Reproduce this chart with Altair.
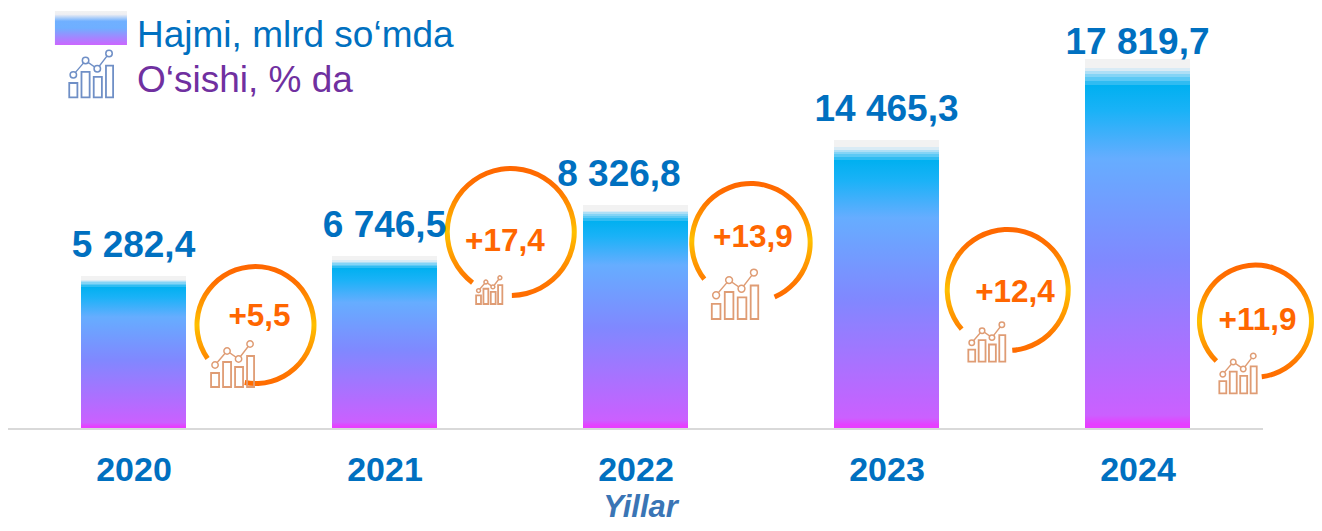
import math
import altair as alt
import pandas as pd

FONT = "Liberation Sans"
BLUE = "#0070C0"
ORANGE = "#FF6600"
PX = 1 / 251  # one screen pixel in year units

years = [2020, 2021, 2022, 2023, 2024]
value_labels = ["5 282,4", "6 746,5", "8 326,8", "14 465,3", "17 819,7"]
bar_heights = [152, 172, 223, 288, 369]
label_x = [2020.0, 2021.0, 2021.934, 2023.0, 2024.0]
label_y = [171.3, 191, 242, 307, 374]

growth_labels = ["+5,5", "+17,4", "+13,9", "+12,4", "+11,9"]
growth_x = [2020.502, 2021.48, 2022.468, 2023.512, 2024.478]
growth_y = [102, 177, 181.3, 126.3, 98]

ring_x = [2020.486, 2021.503, 2022.460, 2023.483, 2024.47]
ring_y = [103, 196, 185.3, 138, 107]
ring_r = [61, 66, 61.7, 63, 58.5]
ring_start = [235, 217, 232, 229.6, 224.3]
ring_end = [550.6, 539, 516.5, 535.7, 533.6]

icon_left = [2020.309, 2021.365, 2022.304, 2023.326, 2024.326, 2019.744]
icon_bottom = [41, 124, 109, 66.3, 34.7, 330.7]
icon_scale = [1.0, 0.61, 1.08, 0.86, 0.87, 1.02]
icon_color = ["#DF9C74"] * 5 + ["#6F8FC6"]
icon_bars = [(0, 8, 14), (12, 20, 25), (24, 32, 20), (36, 43, 31)]
icon_dots = [(4, 22), (16, 36), (27.5, 28), (39, 43)]

legend_texts = ["Hajmi, mlrd so‘mda", "O‘sishi, % da"]
legend_colors = [BLUE, "#7030A0"]
legend_x = [2020.014, 2020.014]
legend_y = [381.3, 336.3]

bars = pd.DataFrame({
    "x": [y - 52.5 * PX for y in years],
    "x2": [y + 52.5 * PX for y in years],
    "h": bar_heights,
})
labels = pd.DataFrame({"x": label_x, "y": label_y, "t": value_labels})
growth = pd.DataFrame({"x": growth_x, "y": growth_y, "t": growth_labels})
rings = pd.DataFrame({
    "x": ring_x, "y": ring_y,
    "a": [math.radians(v) for v in ring_start],
    "b": [math.radians(v) for v in ring_end],
    "r": ring_r,
    "r2": [v - 5 for v in ring_r],
})

icon_rects, icon_lines = [], []
for i, (l, b, s, c) in enumerate(zip(icon_left, icon_bottom, icon_scale, icon_color)):
    for x0, x1, h in icon_bars:
        icon_rects.append({"x": l + x0 * s * PX, "x2": l + x1 * s * PX, "y": b, "y2": b + h * s, "c": c})
    for k, (dx, dy) in enumerate(icon_dots):
        icon_lines.append({"i": i, "k": k, "x": l + dx * s * PX, "y": b + dy * s, "c": c,
                           "s": 40 * s * s})
icon_rects = pd.DataFrame(icon_rects)
icon_lines = pd.DataFrame(icon_lines)

X_SCALE = alt.Scale(domain=[2019.5, 2019.5 + 1306 * PX], nice=False, zero=False)
Y_SCALE = alt.Scale(domain=[-95, 420], nice=False, zero=False)


def stops(items):
    return [alt.GradientStop(offset=o, color=c) for o, c in items]


bar_fill = alt.LinearGradient(
    gradient="linear", x1=0, x2=0, y1=0, y2=1,
    stops=stops([
        (0, "#F2F2F2"), (0.025, "#F2F2F2"),
        (0.025, "#D9EBF5"), (0.033, "#D9EBF5"),
        (0.033, "#AEDFF6"), (0.041, "#AEDFF6"),
        (0.041, "#84D4F6"), (0.05, "#84D4F6"),
        (0.05, "#5CC9F5"), (0.06, "#5CC9F5"),
        (0.06, "#30BCF2"), (0.07, "#30BCF2"),
        (0.07, "#00B0F0"), (0.14, "#1AB2F7"),
        (0.27, "#66ADFF"), (0.55, "#8088FF"),
        (0.93, "#C463FF"), (0.965, "#CB60FF"), (0.99, "#E63FFF"), (1, "#E63FFF"),
    ]),
)
swatch_fill = alt.LinearGradient(
    gradient="linear", x1=0, x2=0, y1=0, y2=1,
    stops=stops([(0, "#F2F2F2"), (0.1, "#EEEEF2"), (0.3, "#70B0FF"),
                 (0.5, "#6FAFFF"), (1, "#CC66FF")]),
)
ring_fill = alt.LinearGradient(
    gradient="linear", x1=0, x2=0, y1=0, y2=1,
    stops=stops([(0, "#FF6600"), (0.15, "#FF7000"), (0.5, "#FFC000"),
                 (0.85, "#FF7A00"), (1, "#FF6A00")]),
)

x_axis = alt.Axis(
    values=years, format="d", domain=False, ticks=False, grid=False, offset=-95,
    labelFont=FONT, labelFontSize=34, labelFontWeight="bold", labelColor=BLUE,
    labelBaseline="alphabetic", labelPadding=52, labelAngle=0,
    labelFlush=False, labelOverlap=False,
    title="Yillar", titleFont=FONT, titleFontSize=31, titleFontWeight="bold",
    titleFontStyle="italic", titleColor="#3A75B5", titleBaseline="alphabetic",
    titleX=632, titleY=88, titleAnchor="middle", titleAlign="center",
)

bar_layer = alt.Chart(bars).mark_rect(fill=bar_fill).encode(
    x=alt.X("x:Q", scale=X_SCALE, axis=x_axis),
    x2="x2:Q",
    y=alt.Y("h:Q", scale=Y_SCALE, axis=None),
    y2=alt.datum(0),
)
baseline = alt.Chart(pd.DataFrame({"x": [2019.5], "x2": [2024.5], "y": [-1]})).mark_rule(
    color="#D9D9D9", strokeWidth=2
).encode(x=alt.X("x:Q", scale=X_SCALE), x2="x2:Q", y=alt.Y("y:Q", scale=Y_SCALE))

value_text = alt.Chart(labels).mark_text(
    font=FONT, fontSize=37, fontWeight="bold", color=BLUE, align="center", baseline="alphabetic"
).encode(x=alt.X("x:Q", scale=X_SCALE), y=alt.Y("y:Q", scale=Y_SCALE), text="t:N")

growth_text = alt.Chart(growth).mark_text(
    font=FONT, fontSize=31.5, fontWeight="bold", color=ORANGE, align="center", baseline="alphabetic"
).encode(x=alt.X("x:Q", scale=X_SCALE), y=alt.Y("y:Q", scale=Y_SCALE), text="t:N")

ring_layer = alt.Chart(rings).mark_arc(fill=ring_fill).encode(
    x=alt.X("x:Q", scale=X_SCALE),
    y=alt.Y("y:Q", scale=Y_SCALE),
    theta=alt.Theta("a:Q", scale=None),
    theta2="b:Q",
    radius=alt.Radius("r:Q", scale=None),
    radius2="r2:Q",
)

rect_layer = alt.Chart(icon_rects).mark_rect(fillOpacity=0, strokeWidth=1.8).encode(
    x=alt.X("x:Q", scale=X_SCALE), x2="x2:Q",
    y=alt.Y("y:Q", scale=Y_SCALE), y2="y2:Q",
    stroke=alt.Stroke("c:N", scale=None),
)
line_layer = alt.Chart(icon_lines).mark_line(strokeWidth=1.4).encode(
    x=alt.X("x:Q", scale=X_SCALE),
    y=alt.Y("y:Q", scale=Y_SCALE),
    detail="i:N", order="k:Q",
    stroke=alt.Stroke("c:N", scale=None),
)
dot_layer = alt.Chart(icon_lines).mark_point(shape="circle", filled=False, fill="white", fillOpacity=1, strokeWidth=1.5, opacity=1).encode(
    x=alt.X("x:Q", scale=X_SCALE),
    y=alt.Y("y:Q", scale=Y_SCALE),
    size=alt.Size("s:Q", scale=None),
    stroke=alt.Stroke("c:N", scale=None),
)

swatch = alt.Chart(pd.DataFrame({"x": [2019.687], "x2": [2019.974], "y": [417], "y2": [383]})).mark_rect(
    fill=swatch_fill
).encode(x=alt.X("x:Q", scale=X_SCALE), x2="x2:Q", y=alt.Y("y:Q", scale=Y_SCALE), y2="y2:Q")
legend_text = alt.Chart(pd.DataFrame({"x": legend_x, "y": legend_y, "t": legend_texts, "c": legend_colors})).mark_text(
    font=FONT, fontSize=37, align="left", baseline="alphabetic"
).encode(
    x=alt.X("x:Q", scale=X_SCALE), y=alt.Y("y:Q", scale=Y_SCALE), text="t:N",
    color=alt.Color("c:N", scale=None),
)

chart = alt.layer(
    bar_layer, baseline, ring_layer, rect_layer, line_layer, dot_layer,
    value_text, growth_text, swatch, legend_text,
).properties(
    width=1306, height=515, padding=0, background="white",
    autosize=alt.AutoSizeParams(type="none"),
).configure_view(stroke=None)

chart.save("out.html", embed_options={"renderer": "svg", "actions": False})
